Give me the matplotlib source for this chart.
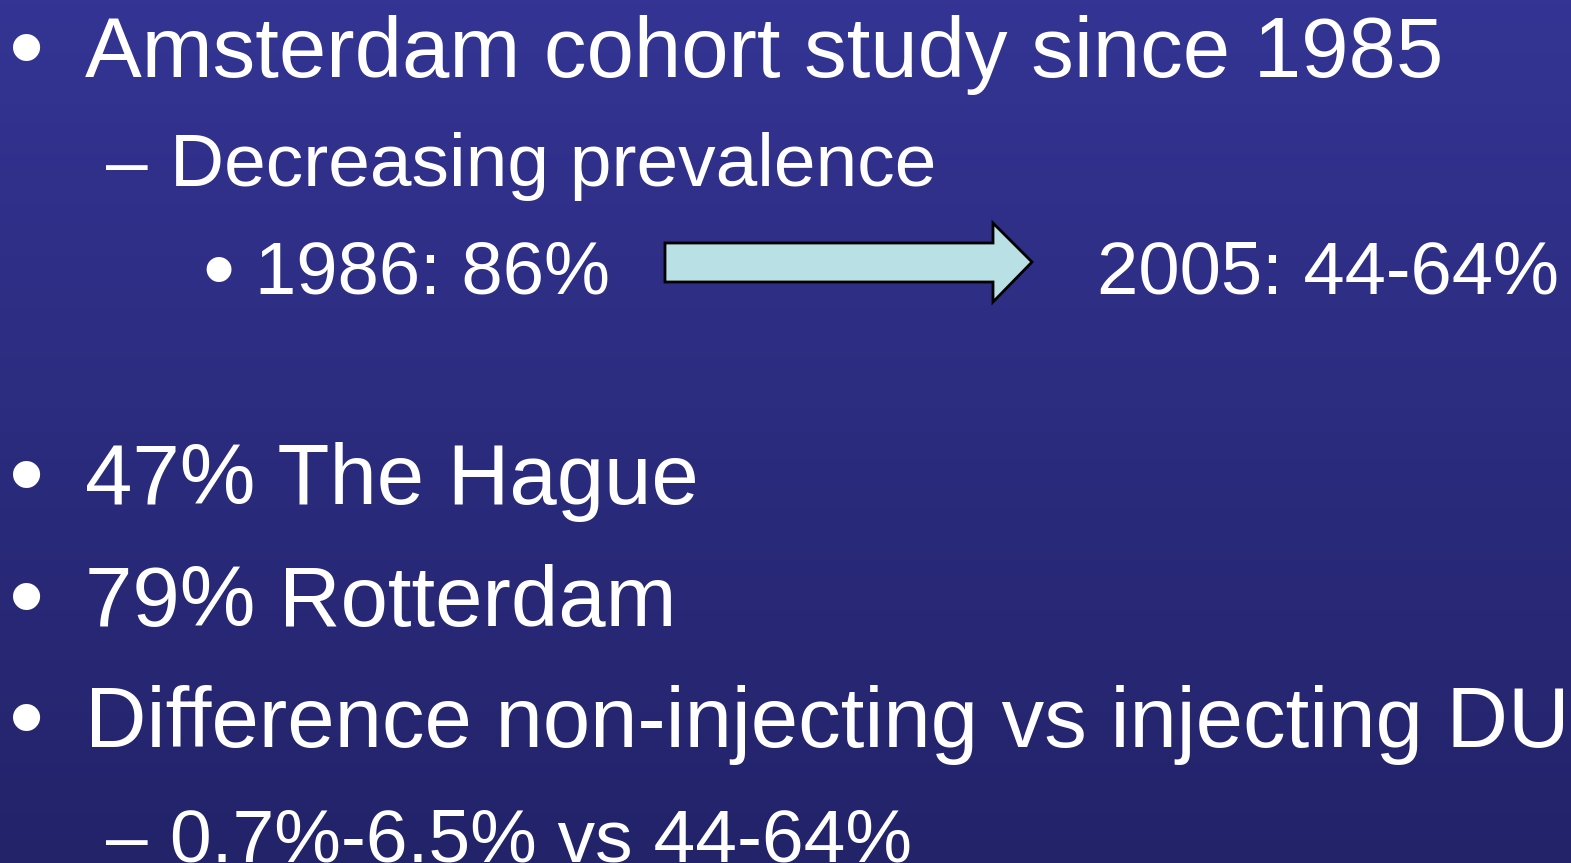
import numpy as np
import matplotlib.pyplot as plt
from matplotlib.patches import Polygon
from matplotlib.colors import LinearSegmentedColormap

plt.rcParams['font.family'] = ['Liberation Sans', 'DejaVu Sans']

# slide content
bullets = ["•", "–", "•", "•", "•", "•", "–"]
lines = [
    "Amsterdam cohort study since 1985",
    "Decreasing prevalence",
    "1986: 86%",
    "47% The Hague",
    "79% Rotterdam",
    "Difference non-injecting vs injecting DU",
    "0.7%-6.5% vs 44-64%",
]
right_text = "2005: 44-64%"
levels = [0, 1, 2, 0, 0, 0, 1]
baselines = [77, 186, 293, 504, 626, 747, 861]

W, H = 1571, 863
fig = plt.figure(figsize=(W / 100, H / 100), dpi=100)
ax = fig.add_axes([0, 0, 1, 1])
ax.set_xlim(0, W)
ax.set_ylim(H, 0)
ax.axis('off')

# background gradient
cmap = LinearSegmentedColormap.from_list('bg', ['#343494', '#23236a'])
grad = np.linspace(0, 1, 256).reshape(-1, 1)
ax.imshow(grad, cmap=cmap, aspect='auto', extent=[0, W, H, 0], zorder=0)

text_x = {0: 85, 1: 170, 2: 255}
sizes = {0: 61.3, 1: 54, 2: 53.5}

# bullet glyphs: dot bullets are large, dashes at text size
bullet_cx = {0: 27, 2: 218}
bullet_size = {0: 72, 2: 66}
bullet_rise = {0: 32, 2: 26}

for b, t, lv, y in zip(bullets, lines, levels, baselines):
    if b == "•":
        em = bullet_size[lv] * 100 / 72
        by = y - bullet_rise[lv] + 0.36 * em
        ax.text(bullet_cx[lv], by, b, color='white', fontsize=bullet_size[lv],
                va='baseline', ha='center', zorder=3)
    else:
        ax.text(106, y, b, color='white', fontsize=sizes[lv],
                va='baseline', ha='left', zorder=3)
    ax.text(text_x[lv], y, t, color='white', fontsize=sizes[lv],
            va='baseline', ha='left', zorder=3)

ax.text(1097, baselines[2], right_text, color='white', fontsize=sizes[2],
        va='baseline', ha='left', zorder=3)

# block arrow
arrow = Polygon([(665, 243), (993, 243), (993, 223), (1032, 262),
                 (993, 302), (993, 282), (665, 282)], closed=True,
                facecolor='#b9e0e4', edgecolor='black', linewidth=2, zorder=2)
ax.add_patch(arrow)

fig.savefig('out.png', dpi=100)
